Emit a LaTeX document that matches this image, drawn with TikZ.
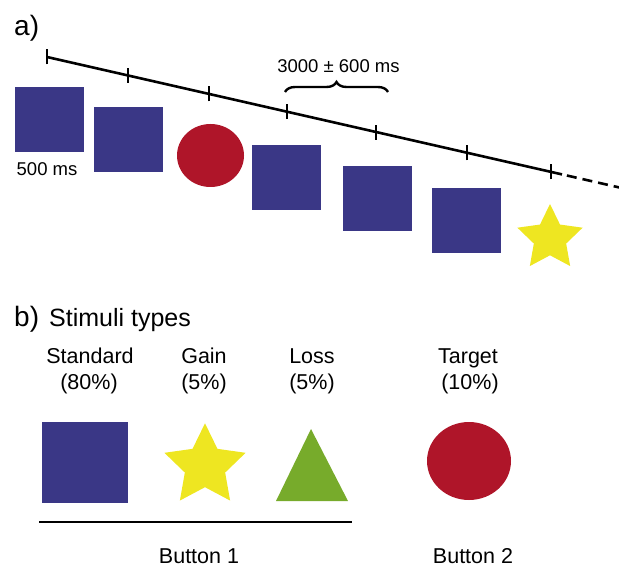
\documentclass[tikz,border=0pt]{standalone}
\usepackage{fontspec}
\setmainfont{Liberation Sans}
\usetikzlibrary{decorations.pathreplacing,shapes.geometric}
\definecolor{sqblue}{HTML}{3A3786}
\definecolor{tred}{HTML}{AF1529}
\definecolor{syel}{HTML}{EEE621}
\definecolor{tgreen}{HTML}{77AB2B}
\begin{document}
\begin{tikzpicture}[x=1pt,y=-1pt,
  sqa/.style={rectangle,fill=sqblue,inner sep=0pt,minimum width=69pt,minimum height=65pt},
  circ/.style={ellipse,fill=tred,inner sep=0pt},
  big/.style={inner sep=0pt,font=\fontsize{28}{32}\selectfont},
  ttl/.style={inner sep=0pt,font=\fontsize{25}{30}\selectfont},
  lbl/.style={inner sep=0pt,font=\fontsize{21.5}{26}\selectfont},
  sml/.style={inner sep=0pt,font=\fontsize{18.5}{22}\selectfont},
  tick/.style={line width=1.7pt},
  tl/.style={line width=2.6pt}]
\useasboundingbox (0,0) rectangle (619,567);
% ---------- a) ----------
\node[big,anchor=base west] (la) at (14,36) {a)};
% timeline
\coordinate (t0) at (47,57);
\coordinate (tend) at (562,174.4);
\coordinate (tfar) at (619,187.4);
\draw[tl] (t0) -- (tend);
\draw[tl,dash pattern=on 10pt off 6pt,dash phase=-5pt] (tend) -- (tfar);
\foreach \x/\n in {47/k0,128/k1,209/k2,287/k3,376/k4,467/k5,551/k6}{
  \coordinate (\n) at (\x,{57+0.228*(\x-47)});
  \draw[tick] ([yshift=-7.5pt]\n) -- ([yshift=7.5pt]\n);
}
% stimuli sequence
\node[sqa] (s1) at (49.5,119.5) {};
\node[sqa] (s2) at (128.5,139.5) {};
\node[circ,minimum width=67pt,minimum height=63pt] (c1) at (210.5,155.5) {};
\node[sqa] (s3) at (286.5,177.5) {};
\node[sqa] (s4) at (377.5,198.5) {};
\node[sqa] (s5) at (466.5,220.5) {};
\coordinate (st1) at (550,238.3);
\fill[syel] (st1) +(-90:34.3) -- +(-54:17) -- +(-18:34.3) -- +(18:17) -- +(54:34.3)
  -- +(90:17) -- +(126:34.3) -- +(162:17) -- +(198:34.3) -- +(234:17) -- cycle;
\node[sml,anchor=base west] (ms500) at (16.5,176) {500 ms};
\node[sml,anchor=base] (isi) at (338.5,73) {3000 ± 600 ms};
\coordinate (b0) at (285,92);
\coordinate (b1) at (388,92);
\draw[line width=2.4pt,decorate,decoration={brace,amplitude=10pt}] (b0) -- (b1);
% ---------- b) ----------
\node[big,anchor=base west] (lb) at (14,326) {b)};
\node[ttl,anchor=base west] (stt) at (49,326) {Stimuli types};
\node[lbl,anchor=base] (n1) at (90,363) {Standard};
\node[lbl,anchor=base] (p1) at (89,389) {(80\%)};
\node[lbl,anchor=base] (n2) at (204,363) {Gain};
\node[lbl,anchor=base] (p2) at (204,389) {(5\%)};
\node[lbl,anchor=base] (n3) at (312,363) {Loss};
\node[lbl,anchor=base] (p3) at (312,389) {(5\%)};
\node[lbl,anchor=base] (n4) at (468,363) {Target};
\node[lbl,anchor=base] (p4) at (470,389) {(10\%)};
\node[rectangle,fill=sqblue,inner sep=0pt,minimum width=86pt,minimum height=81pt] (bs) at (85,462.5) {};
\coordinate (st2) at (205,466);
\fill[syel] (st2) +(-90:42.7) -- +(-54:21.2) -- +(-18:42.7) -- +(18:21.2) -- +(54:42.7)
  -- +(90:21.2) -- +(126:42.7) -- +(162:21.2) -- +(198:42.7) -- +(234:21.2) -- cycle;
\coordinate (tr1) at (311,429);
\coordinate (tr2) at (348,501);
\coordinate (tr3) at (276,501);
\fill[tgreen] (tr1) -- (tr2) -- (tr3) -- cycle;
\node[circ,minimum width=84pt,minimum height=78pt] (bc) at (469,461) {};
\coordinate (u0) at (39,522);
\coordinate (u1) at (352,522);
\draw[line width=1.2pt] (u0) -- (u1);
\node[lbl,anchor=base] (btn1) at (199,563.5) {Button 1};
\node[lbl,anchor=base] (btn2) at (473,563) {Button 2};
\end{tikzpicture}
\end{document}
